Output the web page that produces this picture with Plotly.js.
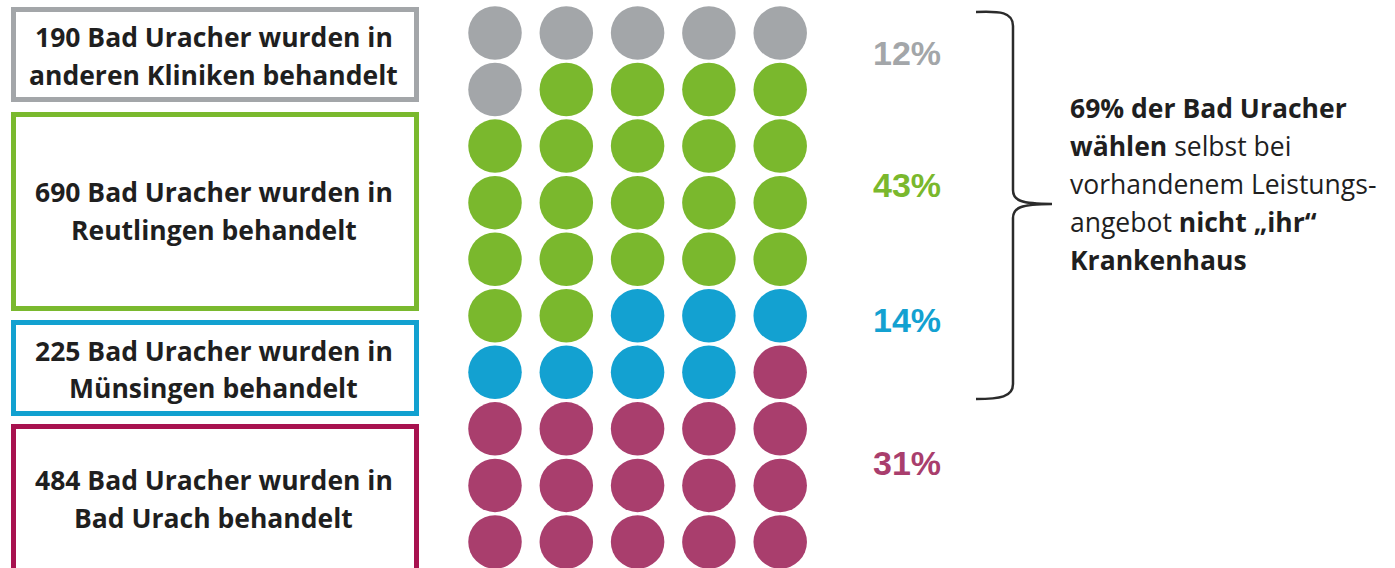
<!DOCTYPE html>
<html>
<head>
<meta charset="utf-8">
<script src="https://cdn.plot.ly/plotly-3.0.1.min.js"></script>
<style>html,body{margin:0;padding:0;background:#fff;}#chart{width:1395px;height:568px;}</style>
</head>
<body>
<div id="chart"></div>
<script>
// ---- data ----
const categories = ['andere Kliniken', 'Reutlingen', 'Münsingen', 'Bad Urach'];
const patients = [190, 690, 225, 484];
const dotCounts = [6, 21, 7, 16];
const pctLabels = ['12%', '43%', '14%', '31%'];
const boxLine1 = ['190 Bad Uracher wurden in', '690 Bad Uracher wurden in', '225 Bad Uracher wurden in', '484 Bad Uracher wurden in'];
const boxLine2 = ['anderen Kliniken behandelt', 'Reutlingen behandelt', 'Münsingen behandelt', 'Bad Urach behandelt'];
const noteLines = ['<b>69% der Bad Uracher</b>', '<b>wählen</b> selbst bei', 'vorhandenem Leistungs-', 'angebot <b>nicht „ihr“</b>', '<b>Krankenhaus</b>'];

// ---- styles ----
const dotColors = ['#a3a6a9', '#7ab82d', '#13a1d1', '#a93e6d'];
const boxColors = ['#a3a6a9', '#7ab92e', '#12a1d0', '#a8124f'];
const W = 1395, H = 568;
const COLS = 5;
const px = x => x / W;
const py = y => 1 - y / H;

// build waffle grid
const traces = [];
let idx = 0;
categories.forEach((c, k) => {
  const xs = [], ys = [];
  for (let j = 0; j < dotCounts[k]; j++) {
    xs.push(idx % COLS);
    ys.push(Math.floor(idx / COLS));
    idx++;
  }
  traces.push({
    type: 'scatter', mode: 'markers', x: xs, y: ys, name: c,
    marker: {size: 53.5, color: dotColors[k], line: {width: 0}},
    hoverinfo: 'name', showlegend: false
  });
});

// pixel geometry
const colX0 = 495, colStep = 71.3;
const rowY0 = 33, rowStep = 56.55;

const boxes = [[7, 102], [112, 311], [320, 416], [424, 580]];
const boxTextY = [[37, 75], [192, 230], [351, 388], [480, 518]];
const pctY = [53, 185, 320, 463];

const shapes = [];
const annotations = [];
const lw = 5;
const textFont = 'Open Sans, sans-serif';
const textSize = 26.5;
boxes.forEach((b, k) => {
  shapes.push({type: 'rect', xref: 'paper', yref: 'paper',
    x0: px(11 + lw / 2), x1: px(419 - lw / 2), y0: py(b[0] + lw / 2), y1: py(b[1] - lw / 2),
    line: {color: boxColors[k], width: lw}, fillcolor: 'rgba(0,0,0,0)'});
  [boxLine1[k], boxLine2[k]].forEach((t, i) => {
    annotations.push({xref: 'paper', yref: 'paper', x: px(214), y: py(boxTextY[k][i]),
      xanchor: 'center', yanchor: 'middle', text: '<b>' + t + '</b>', showarrow: false,
      font: {family: textFont, size: textSize, color: '#1f1f1f'}});
  });
  annotations.push({xref: 'paper', yref: 'paper', x: px(907), y: py(pctY[k]),
    xanchor: 'center', yanchor: 'middle', text: '<b>' + pctLabels[k] + '</b>', showarrow: false,
    font: {family: 'Liberation Sans, Arial, sans-serif', size: 34, color: dotColors[k]}});
});

noteLines.forEach((t, i) => {
  annotations.push({xref: 'paper', yref: 'paper', x: px(1068), y: py(108 + i * 38),
    xanchor: 'left', yanchor: 'middle', text: t, showarrow: false,
    font: {family: textFont, size: textSize, color: '#1f1f1f'}});
});

// curly brace
function P(x, y) { return px(x).toFixed(5) + ',' + py(y).toFixed(5); }
const brace = 'M' + P(976, 12) + ' C' + P(1000, 11) + ' ' + P(1013, 12) + ' ' + P(1013, 26) +
  ' L' + P(1013, 190) + ' C' + P(1013, 200) + ' ' + P(1020, 204) + ' ' + P(1052, 204) +
  ' C' + P(1020, 204) + ' ' + P(1013, 208) + ' ' + P(1013, 218) +
  ' L' + P(1013, 384) + ' C' + P(1013, 397) + ' ' + P(1000, 399) + ' ' + P(976, 399);
shapes.push({type: 'path', xref: 'paper', yref: 'paper', path: brace,
  line: {color: '#2b2b2b', width: 2.5}});

const layout = {
  width: W, height: H,
  margin: {l: 0, r: 0, t: 0, b: 0},
  paper_bgcolor: '#fff', plot_bgcolor: '#fff',
  xaxis: {range: [-colX0 / colStep, (W - colX0) / colStep], visible: false, fixedrange: true},
  yaxis: {range: [(H - rowY0) / rowStep, -rowY0 / rowStep], visible: false, fixedrange: true},
  shapes: shapes, annotations: annotations, showlegend: false
};
Plotly.newPlot('chart', traces, layout, {displayModeBar: false, staticPlot: true});
</script>
</body>
</html>
